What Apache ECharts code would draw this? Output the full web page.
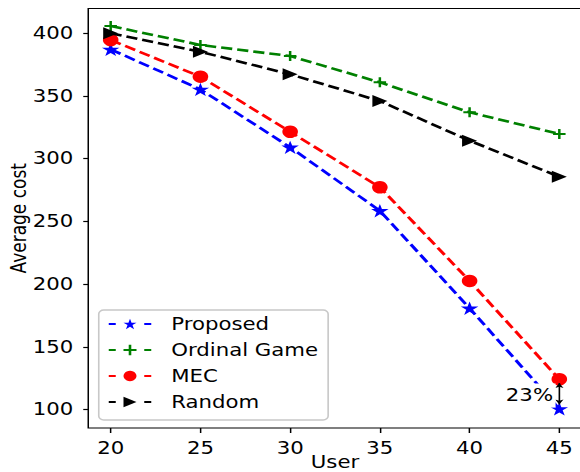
<!DOCTYPE html>
<html>
<head>
<meta charset="utf-8">
<script src="https://cdn.jsdelivr.net/npm/echarts@6/dist/echarts.min.js"></script>
<style>
html,body{margin:0;padding:0;background:#fff;}
#wrap{width:580px;height:472px;overflow:hidden;position:relative;background:#fff;}
#chart{width:464px;height:472px;transform:scaleX(1.25);transform-origin:0 0;}
</style>
</head>
<body>
<div id="wrap"><div id="chart"></div></div>
<script>
// ---- data ----
const users = [20, 25, 30, 35, 40, 45];
const proposed = [387.2, 355.3, 309.1, 258.5, 180.7, 100.4];
const ordinalGame = [405.8, 390.7, 381.9, 360.9, 337.0, 319.7];
const mec = [394.7, 365.4, 321.5, 277.2, 202.5, 124.1];
const randomCost = [400.0, 385.3, 367.3, 346.0, 314.4, 285.6];
const xTicks = [20, 25, 30, 35, 40, 45];
const yTicks = [100, 150, 200, 250, 300, 350, 400];
const gapText = '23%';
const gapTextValue = 111.2;
const gapArrow = [121, 104];

const FONT = 'DejaVu Sans';
const pairs = vals => users.map((u, i) => [u, vals[i]]);
const starPath = 'path://M50,0 L61.8,35.3 L100,35.3 L69.1,57.6 L80.9,95.1 L50,72.7 L19.1,95.1 L30.9,57.6 L0,35.3 L38.2,35.3 Z';
const plusPath = 'path://M4,0H6V4H10V6H6V10H4V6H0V4H4Z';

function mk(name, vals, color, symbol, size, extra) {
  return Object.assign({
    name: name,
    type: 'line',
    data: pairs(vals),
    symbol: symbol,
    symbolSize: size,
    symbolKeepAspect: true,
    showAllSymbol: true,
    clip: false,
    lineStyle: { color: color, width: 2.6, type: [9, 4] },
    itemStyle: { color: color, opacity: 1 },
    emphasis: { disabled: true },
    animation: false
  }, extra || {});
}

const chart = echarts.init(document.getElementById('chart'), null, { renderer: 'svg' });
chart.setOption({
  backgroundColor: '#fff',
  animation: false,
  textStyle: { fontFamily: FONT },
  grid: {
    left: 70.6, top: 8.5, width: 394.8, height: 419.5,
    containLabel: false, outerBoundsMode: 'none',
    show: true, borderColor: '#000', borderWidth: 1.2, backgroundColor: 'transparent'
  },
  xAxis: {
    type: 'value', min: 18.75, max: 46.25,
    name: 'User', nameLocation: 'middle', nameGap: 26, nameMoveOverlap: false,
    nameTextStyle: { fontSize: 17, color: '#000', fontFamily: FONT },
    axisLine: { show: false },
    splitLine: { show: false },
    axisTick: { show: true, customValues: xTicks, length: 5, inside: false, lineStyle: { color: '#000', width: 1.2 } },
    axisLabel: { customValues: xTicks, fontSize: 17, color: '#000', margin: 12, fontFamily: FONT }
  },
  yAxis: {
    type: 'value', min: 85.2, max: 419.8,
    name: 'Average cost', nameLocation: 'middle', nameGap: 47, nameMoveOverlap: false,
    nameTextStyle: { fontSize: 17, color: '#000', fontFamily: FONT },
    axisLine: { show: false },
    splitLine: { show: false },
    axisTick: { show: true, customValues: yTicks, length: 4, inside: false, lineStyle: { color: '#000', width: 1.2 } },
    axisLabel: { customValues: yTicks, fontSize: 17, color: '#000', margin: 12, fontFamily: FONT }
  },
  legend: {
    orient: 'vertical',
    left: 79, top: 310,
    padding: [5, 8, 9, 7],
    itemWidth: 34, itemHeight: 13, itemGap: 8,
    backgroundColor: 'rgba(255,255,255,0.85)',
    borderColor: '#c8c8c8', borderWidth: 1.3, borderRadius: 4,
    lineStyle: { type: [5.6, 22.8] },
    textStyle: { fontSize: 17, color: '#000', fontFamily: FONT, lineHeight: 18, padding: [0, 0, 0, 11] },
    data: ['Proposed', 'Ordinal Game', 'MEC', 'Random']
  },
  series: [
    mk('Proposed', proposed, '#0000ff', starPath, 14, {
      z: 2,
      markPoint: {
        symbol: 'circle', symbolSize: 0, silent: true, animation: false,
        data: [{
          coord: [users[5], gapTextValue],
          label: {
            show: true, formatter: gapText, position: 'left', distance: 3,
            fontSize: 17, color: '#000', fontFamily: FONT, lineHeight: 20,
            backgroundColor: '#fff', padding: [2, 2, 2, 3]
          }
        }]
      }
    }),
    mk('Ordinal Game', ordinalGame, '#008000', plusPath, 10, { z: 2 }),
    mk('MEC', mec, '#ff0000', 'circle', 12.5, { z: 2 }),
    mk('Random', randomCost, '#000000', 'triangle', 12, {
      z: 3,
      symbolRotate: -90,
      markLine: {
        silent: true, animation: false,
        symbol: ['arrow', 'arrow'], symbolSize: [5, 5],
        lineStyle: { color: '#000', type: 'solid', width: 1.3 },
        label: { show: false },
        data: [[{ coord: [users[5], gapArrow[0]] }, { coord: [users[5], gapArrow[1]] }]]
      }
    })
  ]
});
</script>
</body>
</html>
